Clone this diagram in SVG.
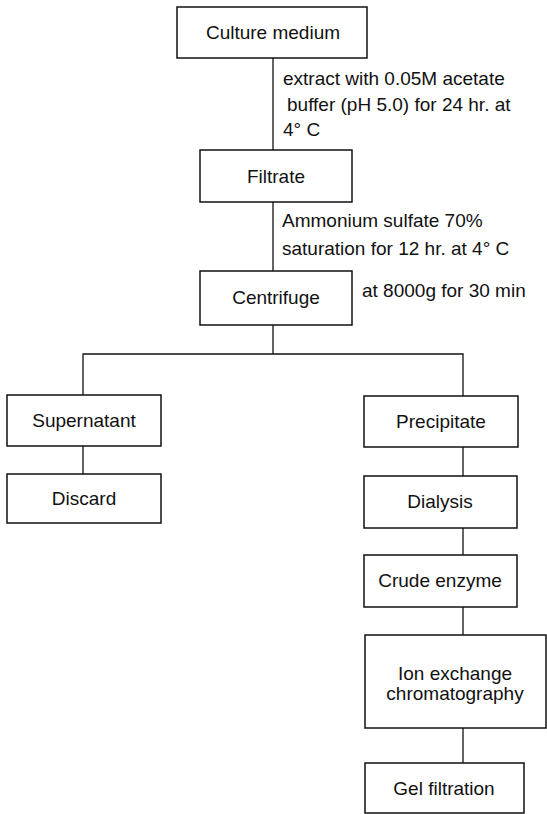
<svg xmlns="http://www.w3.org/2000/svg" width="547" height="814" viewBox="0 0 547 814">
<style>
.box{fill:#fff;stroke:#111;stroke-width:1.5}
.ln{fill:none;stroke:#111;stroke-width:1.3}
text{font-family:"Liberation Sans",Arial,sans-serif;font-size:19px;fill:#111}
.c{text-anchor:middle}
</style>
<rect width="547" height="814" fill="#fff"/>
<g id="connectors">
<line class="ln" x1="273" y1="58" x2="273" y2="150"/>
<line class="ln" x1="273" y1="202" x2="273" y2="271"/>
<polyline class="ln" points="273,325 273,354"/>
<polyline class="ln" points="83,395 83,354 463,354 463,396"/>
<line class="ln" x1="83" y1="446" x2="83" y2="474"/>
<line class="ln" x1="463" y1="447" x2="463" y2="476"/>
<line class="ln" x1="463" y1="528" x2="463" y2="555"/>
<line class="ln" x1="463" y1="607" x2="463" y2="635"/>
<line class="ln" x1="463" y1="728" x2="463" y2="763"/>
</g>
<g id="labels">
<text x="283" y="85">extract with 0.05M acetate</text>
<text x="287" y="111">buffer (pH 5.0) for 24 hr. at</text>
<text x="283" y="136">4° C</text>
<text x="282" y="227">Ammonium sulfate 70%</text>
<text x="282" y="255">saturation for 12 hr. at 4° C</text>
<text x="362" y="297">at 8000g for 30 min</text>
</g>
<g id="culture-medium"><rect class="box" x="177" y="7" width="190" height="51"/><text class="c" x="273" y="39">Culture medium</text></g>
<g id="filtrate"><rect class="box" x="200" y="150" width="152" height="52"/><text class="c" x="276" y="183">Filtrate</text></g>
<g id="centrifuge"><rect class="box" x="200" y="271" width="152" height="54"/><text class="c" x="276" y="304">Centrifuge</text></g>
<g id="supernatant"><rect class="box" x="7" y="395" width="154" height="51"/><text class="c" x="84" y="427">Supernatant</text></g>
<g id="discard"><rect class="box" x="7" y="474" width="154" height="49"/><text class="c" x="84" y="505">Discard</text></g>
<g id="precipitate"><rect class="box" x="364" y="396" width="154" height="51"/><text class="c" x="441" y="428">Precipitate</text></g>
<g id="dialysis"><rect class="box" x="364" y="476" width="153" height="52"/><text class="c" x="440" y="508">Dialysis</text></g>
<g id="crude-enzyme"><rect class="box" x="364" y="555" width="153" height="52"/><text class="c" x="440" y="587">Crude enzyme</text></g>
<g id="ion-exchange"><rect class="box" x="365" y="635" width="181" height="93"/><text class="c" x="455" y="680">Ion exchange</text><text class="c" x="455" y="700">chromatography</text></g>
<g id="gel-filtration"><rect class="box" x="365" y="763" width="159" height="50"/><text class="c" x="444" y="795">Gel filtration</text></g>
</svg>
